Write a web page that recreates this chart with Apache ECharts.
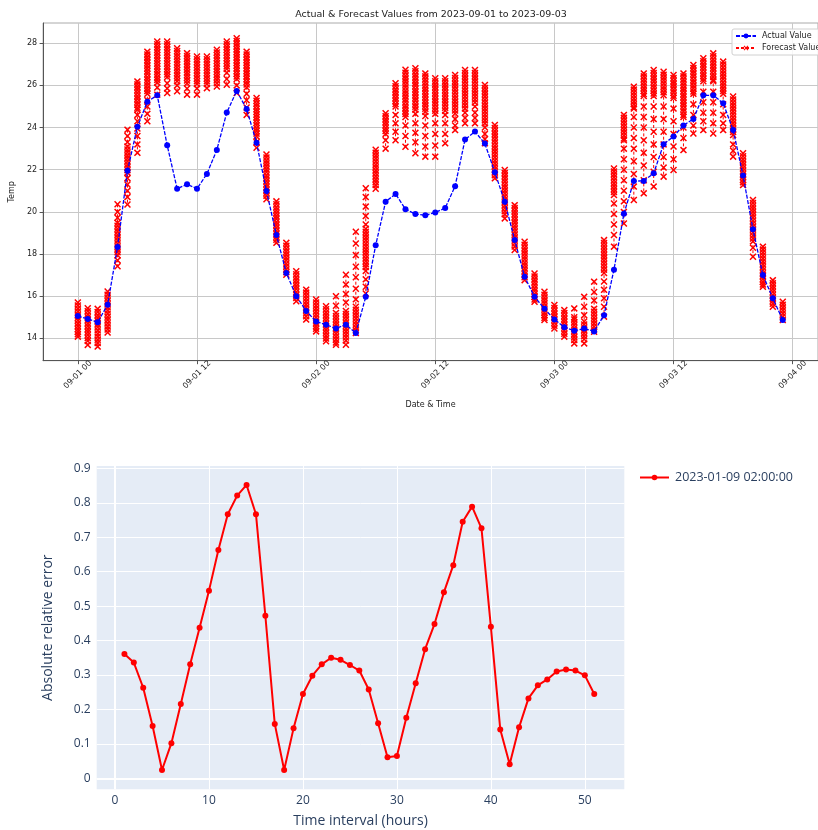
<!DOCTYPE html>
<html>
<head>
<meta charset="utf-8">
<script src="https://cdn.jsdelivr.net/npm/echarts@6/dist/echarts.min.js"></script>
<style>
html,body{margin:0;padding:0;background:#fff;}
#chart{width:818px;height:830px;}
</style>
</head>
<body>
<div id="chart"></div>
<script>
// ---------- Top chart data (hourly, 2023-09-01 00:00 .. 2023-09-03 23:00) ----------
const topTitle = 'Actual & Forecast Values from 2023-09-01 to 2023-09-03';
const xTickValues = [0, 12, 24, 36, 48, 60, 72];
const xTickLabels = ['09-01 00', '09-01 12', '09-02 00', '09-02 12', '09-03 00', '09-03 12', '09-04 00'];
const yTickValues = [14, 16, 18, 20, 22, 24, 26, 28];

const actualValues = [
  15.06, 14.92, 14.76, 15.60, 18.33, 21.95, 24.04, 25.23, 25.53, 23.16, 21.10, 21.31,
  21.10, 21.80, 22.94, 24.71, 25.74, 24.88, 23.28, 20.99, 18.90, 17.10, 16.00, 15.30,
  14.80, 14.65, 14.47, 14.65, 14.25, 15.97, 18.42, 20.48, 20.85, 20.13, 19.90, 19.84,
  19.97, 20.18, 21.22, 23.43, 23.81, 23.24, 21.88, 20.48, 18.67, 16.92, 15.97, 15.40,
  14.90, 14.53, 14.36, 14.47, 14.33, 15.10, 17.26, 19.91, 21.46, 21.47, 21.83, 23.21,
  23.58, 24.10, 24.41, 25.53, 25.53, 25.15, 23.89, 21.73, 19.17, 17.00, 15.90, 14.87
];

// forecasts issued for each hour (one list per hour)
const forecastValues = [
  [15.70,15.56,15.41,15.27,15.12,14.98,14.85,14.71,14.58,14.44,14.31,14.19,14.08],
  [15.43,15.29,15.14,15.00,14.86,14.72,14.58,14.44,14.30,14.16,14.02,13.88,13.69],
  [15.40,15.25,15.10,14.96,14.82,14.67,14.53,14.38,14.23,14.08,13.93,13.78,13.61],
  [16.22,16.07,15.92,15.77,15.62,15.47,15.32,15.17,15.02,14.87,14.72,14.57,14.42,14.28],
  [20.36,20.00,19.72,19.48,19.34,19.20,19.06,18.92,18.78,18.64,18.50,18.36,18.22,18.08,17.94,17.70,17.42],
  [23.90,23.60,23.30,23.10,22.96,22.82,22.68,22.54,22.40,22.26,22.12,21.98,21.86,21.60,21.30,21.00,20.70,20.35],
  [26.19,26.05,25.92,25.78,25.64,25.50,25.36,25.22,25.08,24.94,24.85,24.60,24.30,23.95,23.60,23.20,22.80],
  [27.60,27.47,27.34,27.20,27.07,26.94,26.80,26.67,26.54,26.40,26.27,26.14,26.00,25.86,25.73,25.60,25.30,25.00,24.65,24.30],
  [28.08,27.95,27.82,27.69,27.56,27.43,27.30,27.17,27.04,26.91,26.78,26.65,26.52,26.39,26.26,26.13,25.90,25.56],
  [28.08,27.95,27.82,27.69,27.56,27.43,27.30,27.17,27.04,26.91,26.78,26.65,26.52,26.40,26.10,25.85,25.64],
  [27.76,27.63,27.50,27.37,27.24,27.11,26.98,26.85,26.72,26.59,26.46,26.33,26.20,26.00,25.72],
  [27.53,27.40,27.27,27.14,27.01,26.88,26.75,26.62,26.49,26.36,26.23,26.10,25.85,25.56],
  [27.37,27.24,27.11,26.98,26.85,26.72,26.59,26.46,26.33,26.20,26.07,25.85,25.56],
  [27.37,27.24,27.11,26.98,26.85,26.72,26.59,26.46,26.33,26.20,26.07,25.87],
  [27.69,27.56,27.43,27.30,27.17,27.04,26.91,26.78,26.65,26.52,26.39,26.26,26.10,25.95],
  [28.08,27.95,27.82,27.69,27.56,27.43,27.30,27.17,27.04,26.91,26.78,26.60,26.30,26.03],
  [28.24,28.11,27.98,27.85,27.72,27.59,27.46,27.33,27.20,27.07,26.94,26.81,26.68,26.55,26.42,26.30,26.00,25.64],
  [27.60,27.47,27.34,27.21,27.08,26.95,26.82,26.69,26.56,26.43,26.30,26.17,26.04,25.90,25.60,25.30,24.95,24.60],
  [25.40,25.27,25.14,25.01,24.88,24.75,24.62,24.49,24.36,24.23,24.10,23.97,23.84,23.71,23.58,23.30,23.04],
  [22.72,22.58,22.44,22.30,22.16,22.02,21.88,21.74,21.60,21.46,21.32,21.18,21.04,20.90,20.76,20.60],
  [20.50,20.36,20.22,20.08,19.94,19.80,19.66,19.52,19.38,19.24,19.10,18.96,18.82,18.68,18.53],
  [18.53,18.39,18.25,18.11,17.97,17.83,17.69,17.55,17.41,17.27,17.14,17.02],
  [17.18,17.04,16.90,16.76,16.62,16.48,16.34,16.20,16.06,15.92,15.76],
  [16.31,16.17,16.03,15.89,15.75,15.61,15.47,15.33,15.19,15.05,14.89],
  [15.84,15.70,15.56,15.42,15.28,15.14,15.00,14.86,14.72,14.58,14.45,14.33],
  [15.52,15.38,15.24,15.10,14.96,14.82,14.68,14.54,14.40,14.26,14.12,13.99,13.86],
  [16.00,15.55,15.20,15.06,14.92,14.78,14.64,14.50,14.36,14.22,14.08,13.94,13.80,13.70],
  [17.02,16.55,16.10,15.70,15.30,15.16,15.02,14.88,14.74,14.60,14.46,14.32,14.18,14.04,13.90,13.70],
  [19.06,18.50,17.95,17.40,16.90,16.35,15.85,15.50,15.36,15.22,15.08,14.94,14.80,14.66,14.52,14.38,14.25],
  [21.12,20.70,20.25,19.80,19.40,19.20,19.06,18.92,18.78,18.64,18.50,18.36,18.22,18.08,17.94,17.80,17.66,17.52,17.38,17.20,16.80,16.45,16.13],
  [22.95,22.81,22.67,22.53,22.39,22.25,22.11,21.97,21.83,21.69,21.55,21.41,21.27,21.10],
  [24.68,24.54,24.40,24.26,24.12,23.98,23.84,23.70,23.40,23.00],
  [26.10,25.96,25.82,25.68,25.54,25.40,25.26,25.12,25.00,24.60,24.20,23.80,23.40],
  [26.74,26.60,26.46,26.32,26.18,26.04,25.90,25.76,25.62,25.48,25.34,25.20,25.06,24.92,24.78,24.64,24.50,24.10,23.60,23.09],
  [26.81,26.67,26.53,26.39,26.25,26.11,25.97,25.83,25.69,25.55,25.41,25.27,25.13,24.99,24.85,24.65,24.20,23.75,23.30,22.78],
  [26.57,26.43,26.29,26.15,26.01,25.87,25.73,25.59,25.45,25.31,25.17,25.03,24.89,24.75,24.55,24.10,23.60,23.10,22.62],
  [26.34,26.20,26.06,25.92,25.78,25.64,25.50,25.36,25.22,25.08,24.94,24.80,24.65,24.20,23.70,23.15,22.62],
  [26.34,26.20,26.06,25.92,25.78,25.64,25.50,25.36,25.22,25.08,24.94,24.80,24.60,24.20,23.70,23.25],
  [26.49,26.35,26.21,26.07,25.93,25.79,25.65,25.51,25.37,25.23,25.09,24.95,24.81,24.67,24.40,24.10,23.88],
  [26.73,26.59,26.45,26.31,26.17,26.03,25.89,25.75,25.61,25.47,25.33,25.19,25.05,24.90,24.70,24.45,24.20],
  [26.73,26.59,26.45,26.31,26.17,26.03,25.89,25.75,25.61,25.47,25.33,25.19,25.00,24.70,24.45,24.20],
  [26.02,25.88,25.74,25.60,25.46,25.32,25.18,25.04,24.90,24.76,24.62,24.48,24.34,24.20,24.00,23.70,23.45,23.25],
  [24.12,23.98,23.84,23.70,23.56,23.42,23.28,23.14,23.00,22.86,22.72,22.58,22.44,22.30,22.16,22.02,21.88,21.74,21.59],
  [21.99,21.85,21.71,21.57,21.43,21.29,21.15,21.01,20.87,20.73,20.59,20.45,20.31,20.17,20.03,19.89,19.69],
  [20.32,20.18,20.04,19.90,19.76,19.62,19.48,19.34,19.20,19.06,18.92,18.78,18.64,18.50,18.36,18.19],
  [18.58,18.44,18.30,18.16,18.02,17.88,17.74,17.60,17.46,17.32,17.18,17.04,16.90,16.76],
  [17.08,16.94,16.80,16.66,16.52,16.38,16.24,16.10,15.96,15.84,15.74],
  [16.21,16.07,15.93,15.79,15.65,15.51,15.37,15.23,15.09,14.97,14.87],
  [15.58,15.44,15.30,15.16,15.02,14.88,14.74,14.60,14.47],
  [15.34,15.20,15.06,14.92,14.78,14.64,14.50,14.36,14.22,14.08],
  [15.42,15.00,14.90,14.76,14.62,14.48,14.34,14.20,14.06,13.92,13.76],
  [15.97,15.50,15.10,14.80,14.66,14.52,14.38,14.24,14.10,13.96,13.76],
  [16.69,16.20,15.80,15.40,15.26,15.12,14.98,14.84,14.70,14.56,14.42,14.31],
  [18.66,18.52,18.38,18.24,18.10,17.96,17.82,17.68,17.54,17.40,17.26,17.10,16.70,16.30,15.90,15.50,15.03],
  [22.06,21.92,21.78,21.64,21.50,21.36,21.22,21.08,20.94,20.80,20.40,19.90,19.40,18.90,18.35],
  [24.60,24.46,24.32,24.18,24.04,23.90,23.76,23.62,23.48,23.40,23.00,22.50,22.00,21.50,21.00,20.50,20.00,19.45],
  [25.94,25.80,25.66,25.52,25.38,25.24,25.10,24.96,24.90,24.50,24.00,23.50,23.00,22.40,21.80,21.20,20.56],
  [26.57,26.43,26.29,26.15,26.01,25.87,25.73,25.59,25.50,25.00,24.50,24.00,23.40,22.80,22.20,21.50,20.88],
  [26.73,26.59,26.45,26.31,26.17,26.03,25.89,25.75,25.61,25.50,25.00,24.40,23.80,23.20,22.60,21.90,21.20],
  [26.65,26.51,26.37,26.23,26.09,25.95,25.81,25.67,25.53,25.00,24.40,23.80,23.20,22.60,22.10,21.67],
  [26.49,26.35,26.21,26.07,25.93,25.79,25.65,25.51,25.40,24.90,24.30,23.70,23.10,22.50,21.99],
  [26.57,26.43,26.29,26.15,26.01,25.87,25.73,25.59,25.45,25.31,25.17,25.03,24.89,24.75,24.60,24.50,24.00,23.50,22.93],
  [26.97,26.83,26.69,26.55,26.41,26.27,26.13,25.99,25.85,25.71,25.60,25.10,24.60,24.10,23.72],
  [27.29,27.15,27.01,26.87,26.73,26.59,26.45,26.31,26.20,25.70,25.20,24.70,24.30,23.88],
  [27.52,27.38,27.24,27.10,26.96,26.82,26.68,26.54,26.40,26.26,26.20,25.70,25.20,24.70,24.20,23.72],
  [27.13,26.99,26.85,26.71,26.57,26.43,26.29,26.15,26.01,25.87,25.73,25.60,25.10,24.60,24.20,23.88],
  [25.47,25.33,25.19,25.05,24.91,24.77,24.63,24.49,24.35,24.21,24.07,23.93,23.79,23.65,23.20,22.90,22.62],
  [22.78,22.64,22.50,22.36,22.22,22.08,21.94,21.80,21.66,21.52,21.40,21.27],
  [20.56,20.42,20.28,20.14,20.00,19.86,19.72,19.58,19.44,19.30,19.16,19.02,18.88,18.74,18.60,18.30,17.87],
  [18.35,18.21,18.07,17.93,17.79,17.65,17.51,17.37,17.23,17.09,16.95,16.81,16.67,16.55,16.45],
  [16.76,16.62,16.48,16.34,16.20,16.06,15.92,15.78,15.64,15.50],
  [15.74,15.60,15.46,15.32,15.18,15.04,14.87]
];

// ---------- Bottom chart data ----------
const errorSeriesName = '2023-01-09 02:00:00';
const errorHours = [1,2,3,4,5,6,7,8,9,10,11,12,13,14,15,16,17,18,19,20,21,22,23,24,25,26,
  27,28,29,30,31,32,33,34,35,36,37,38,39,40,41,42,43,44,45,46,47,48,49,50,51];
const errorValues = [
  0.361, 0.336, 0.263, 0.152, 0.024, 0.102, 0.216, 0.331, 0.437, 0.545, 0.663, 0.767,
  0.821, 0.852, 0.767, 0.472, 0.158, 0.024, 0.145, 0.245, 0.298, 0.331, 0.350, 0.344,
  0.329, 0.313, 0.258, 0.160, 0.061, 0.065, 0.176, 0.276, 0.375, 0.448, 0.540, 0.619,
  0.745, 0.789, 0.726, 0.440, 0.142, 0.041, 0.148, 0.232, 0.270, 0.287, 0.310, 0.316,
  0.313, 0.299, 0.245
];
const errXTicks = [0, 10, 20, 30, 40, 50];
const errYTicks = [0, 0.1, 0.2, 0.3, 0.4, 0.5, 0.6, 0.7, 0.8, 0.9];

// ---------- build ----------
const actualData = actualValues.map((v, h) => [h, v]);
const forecastData = [];
forecastValues.forEach((vals, h) => {
  vals.forEach(v => forecastData.push([h, v]));
  forecastData.push([h, '-']);
});
const errorData = errorHours.map((h, i) => [h, errorValues[i]]);

const X_PATH = 'path://M0,1.5 L1.5,0 L5,3.5 L8.5,0 L10,1.5 L6.5,5 L10,8.5 L8.5,10 L5,6.5 L1.5,10 L0,8.5 L3.5,5 Z';
const mplFont = 'DejaVu Sans';
const plFont = 'Open Sans';
const plColor = '#2a3f5f';

const chart = echarts.init(document.getElementById('chart'), null, {renderer: 'canvas'});
chart.setOption({
  animation: false,
  backgroundColor: '#ffffff',
  title: [{
    text: topTitle,
    left: 431, top: 10, padding: 0,
    textAlign: 'center',
    textStyle: {fontFamily: mplFont, fontSize: 9.5, fontWeight: 'normal', color: '#222'}
  }],
  legend: [{
    data: ['Actual Value', 'Forecast Value(s)'],
    orient: 'vertical',
    left: 732, top: 29,
    padding: [3, 6, 3, 3],
    itemGap: 4,
    itemWidth: 20, itemHeight: 6,
    backgroundColor: 'rgba(255,255,255,0.85)',
    borderColor: '#d0d0d0', borderWidth: 1, borderRadius: 2,
    textStyle: {fontFamily: mplFont, fontSize: 8, color: '#222', padding: [0, 0, 0, 1]},
    selectedMode: false
  }, {
    data: [errorSeriesName],
    orient: 'vertical',
    left: 639, top: 471,
    padding: 0,
    itemWidth: 29, itemHeight: 7,
    textStyle: {fontFamily: plFont, fontSize: 12.5, color: plColor, padding: [0, 0, 0, 1]},
    selectedMode: false
  }],
  grid: [{
    left: 36.5, right: -8.8, top: 23, bottom: 469.3,
    show: true, backgroundColor: '#fff', borderColor: '#aaa', borderWidth: 1
  }, {
    left: 96.7, right: 193.7, top: 466, bottom: 40.7,
    show: true, backgroundColor: '#E5ECF6', borderWidth: 0
  }],
  xAxis: [{
    gridIndex: 0, type: 'value', min: -3.5, max: 74.55,
    name: 'Date & Time', nameLocation: 'middle', nameGap: 40,
    nameTextStyle: {fontFamily: mplFont, fontSize: 8, color: '#222'},
    axisLine: {show: true, onZero: false, lineStyle: {color: '#555', width: 1}},
    axisTick: {show: true, length: 3.5, customValues: xTickValues, lineStyle: {color: '#555'}},
    axisLabel: {
      customValues: xTickValues, rotate: 45, align: 'center', verticalAlign: 'middle',
      margin: 14, fontFamily: mplFont, fontSize: 8, color: '#222',
      formatter: v => xTickLabels[xTickValues.indexOf(v)]
    },
    splitLine: {show: true, lineStyle: {color: '#c8c8c8', width: 1}}
  }, {
    gridIndex: 1, type: 'value', min: -1.95, max: 54.2,
    name: 'Time interval (hours)', nameLocation: 'middle', nameGap: 25,
    nameTextStyle: {fontFamily: plFont, fontSize: 14, color: plColor},
    axisLine: {show: false}, axisTick: {show: false, customValues: errXTicks},
    axisLabel: {customValues: errXTicks, margin: 5, fontFamily: plFont, fontSize: 12, color: plColor},
    splitLine: {show: true, lineStyle: {color: '#ffffff', width: 1}}
  }],
  yAxis: [{
    gridIndex: 0, type: 'value', min: 12.94, max: 28.96,
    name: 'Temp', nameLocation: 'middle', nameGap: 22, nameRotate: 90,
    nameTextStyle: {fontFamily: mplFont, fontSize: 8, color: '#222'},
    axisLine: {show: true, onZero: false, lineStyle: {color: '#555', width: 1}},
    axisTick: {show: true, length: 3.5, customValues: yTickValues, lineStyle: {color: '#555'}},
    axisLabel: {customValues: yTickValues, margin: 6, fontFamily: mplFont, fontSize: 8, color: '#222'},
    splitLine: {show: true, lineStyle: {color: '#c8c8c8', width: 1}}
  }, {
    gridIndex: 1, type: 'value', min: -0.032, max: 0.907,
    name: 'Absolute relative error', nameLocation: 'middle', nameGap: 42, nameRotate: 90,
    nameTextStyle: {fontFamily: plFont, fontSize: 14, color: plColor},
    axisLine: {show: false}, axisTick: {show: false, customValues: errYTicks},
    axisLabel: {customValues: errYTicks, margin: 6, fontFamily: plFont, fontSize: 12, color: plColor,
      formatter: v => (Math.round(v * 10) / 10).toString()},
    splitLine: {show: true, lineStyle: {color: '#ffffff', width: 1}}
  }],
  series: [{
    name: 'Forecast Value(s)', type: 'line',
    xAxisIndex: 0, yAxisIndex: 0,
    data: forecastData,
    connectNulls: false,
    symbol: X_PATH, symbolSize: 7,
    itemStyle: {color: '#ff0000'},
    lineStyle: {color: '#ff0000', width: 1, type: [3, 2]},
    z: 2, silent: true
  }, {
    name: 'Actual Value', type: 'line',
    xAxisIndex: 0, yAxisIndex: 0,
    data: actualData,
    symbol: 'circle', symbolSize: 6,
    itemStyle: {color: '#0000ff'},
    lineStyle: {color: '#0000ff', width: 1.3, type: [4, 1.5]},
    z: 3, silent: true
  }, {
    name: errorSeriesName, type: 'line',
    xAxisIndex: 1, yAxisIndex: 1,
    data: errorData,
    symbol: 'circle', symbolSize: 6,
    itemStyle: {color: '#ff0000'},
    lineStyle: {color: '#ff0000', width: 2},
    markLine: {
      silent: true, symbol: 'none', label: {show: false},
      lineStyle: {color: '#ffffff', width: 2, type: 'solid'},
      data: [{yAxis: 0}, {xAxis: 0}],
      z: 1
    },
    z: 3, silent: true
  }]
});
</script>
</body>
</html>
